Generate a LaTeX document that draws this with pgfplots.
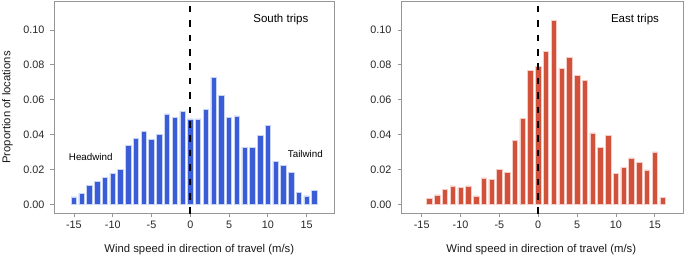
\documentclass[border=0pt]{standalone}
\usepackage{fontspec}
\setmainfont{Liberation Sans}
\usepackage{pgfplots}
\pgfplotsset{compat=1.18}
\definecolor{barblue}{RGB}{58,92,214}
\definecolor{barblueedge}{RGB}{200,212,245}
\definecolor{barred}{RGB}{209,81,59}
\definecolor{barrededge}{RGB}{245,205,198}
\definecolor{framegray}{RGB}{150,150,150}

\pgfplotstableread{
x y
-15 0.0042
-14 0.0063
-13 0.0109
-12 0.0130
-11 0.0155
-10 0.0178
-9 0.0200
-8 0.0340
-7 0.0377
-6 0.0420
-5 0.0370
-4 0.0400
-3 0.0518
-2 0.0500
-1 0.0535
0 0.0490
1 0.0490
2 0.0545
3 0.0729
4 0.0625
5 0.0500
6 0.0507
7 0.0327
8 0.0327
9 0.0396
10 0.0453
11 0.0247
12 0.0224
13 0.0185
14 0.0069
15 0.0048
16 0.0078
}\southdata

\pgfplotstableread{
x y
-14 0.0033
-13 0.0054
-12 0.0084
-11 0.0105
-10 0.0096
-9 0.0105
-8 0.0048
-7 0.0151
-6 0.0145
-5 0.0200
-4 0.0184
-3 0.0367
-2 0.0491
-1 0.0769
0 0.0793
1 0.0876
2 0.1055
3 0.0778
4 0.0843
5 0.0740
6 0.0711
7 0.0410
8 0.0327
9 0.0394
10 0.0178
11 0.0212
12 0.0266
13 0.0239
14 0.0197
15 0.0300
16 0.0038
}\eastdata

\pgfplotsset{
  myaxis/.style={
    scale only axis,
    height=211.6bp,
    ymin=-0.00516, ymax=0.1162,
    axis line style={framegray, line width=0.8bp},
    tick style={framegray, line width=0.8bp},
    tick align=outside,
    major tick length=4bp,
    xtick pos=left, ytick pos=left,
    xtick={-15,-10,-5,0,5,10,15},
    xticklabels={-15,-10,-5,0,5,10,15},
    ytick={0,0.02,0.04,0.06,0.08,0.10},
    yticklabels={0.00,0.02,0.04,0.06,0.08,0.10},
    tick label style={font=\fontsize{10.8bp}{12bp}\selectfont, text=black!85},
    yticklabel style={xshift=-2.5bp},
    label style={font=\fontsize{11.3bp}{13bp}\selectfont, text=black!90},
    ybar, bar width=0.7, bar shift=0pt,
    clip=false,
  },
}

\begin{document}
\begin{tikzpicture}
\useasboundingbox (0,0) rectangle (685bp,257bp);
\begin{axis}[myaxis,
  at={(54.3bp,43.7bp)}, anchor=south west,
  width=280.2bp, xmin=-17.53, xmax=18.59,
  xlabel={Wind speed in direction of travel (m/s)},
  xlabel style={at={(axis description cs:0.5175,-0.1876)}, anchor=base},
  ylabel={Proportion of locations},
  ylabel style={at={(axis description cs:-0.167,0.5)}, anchor=center, rotate=0},
]
\addplot[fill=barblue, draw=barblueedge, line width=0.6bp] table[x=x,y=y] {\southdata};
\addplot[sharp plot, no markers, black, line width=1.7bp, dash pattern=on 6.5bp off 7.9bp, dash phase=10.2bp, forget plot] coordinates {(0,0.1162) (0,-0.0068)};
\node[font=\fontsize{11.5bp}{13bp}\selectfont] at (axis cs:11.67,0.1061) {South trips};
\node[font=\fontsize{9.8bp}{12bp}\selectfont] at (axis cs:-12.83,0.0273) {Headwind};
\node[font=\fontsize{9.8bp}{12bp}\selectfont] at (axis cs:14.83,0.0289) {Tailwind};
\end{axis}
\begin{axis}[myaxis,
  at={(401.5bp,43.7bp)}, anchor=south west,
  width=281.8bp, xmin=-17.6, xmax=18.67,
  xlabel={Wind speed in direction of travel (m/s)},
  xlabel style={at={(axis description cs:0.496,-0.1876)}, anchor=base},
]
\addplot[fill=barred, draw=barrededge, line width=0.6bp] table[x=x,y=y] {\eastdata};
\addplot[sharp plot, no markers, black, line width=1.7bp, dash pattern=on 6.5bp off 7.9bp, dash phase=10.2bp, forget plot] coordinates {(0,0.1162) (0,-0.0068)};
\node[font=\fontsize{11.5bp}{13bp}\selectfont] at (axis cs:12.45,0.1061) {East trips};
\end{axis}
\end{tikzpicture}
\end{document}
